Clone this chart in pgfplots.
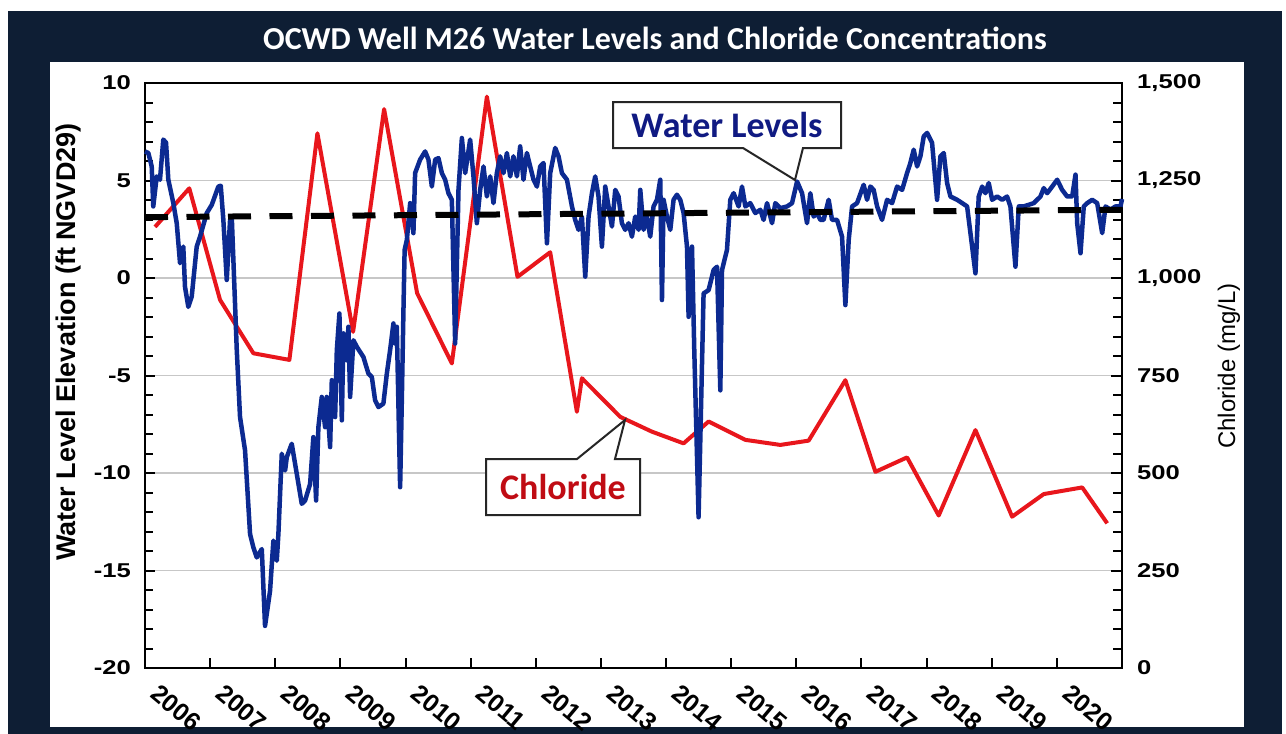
\documentclass[border=0pt]{standalone}
\usepackage{fontspec}
\setmainfont{Liberation Sans}
\newfontfamily\tickfont{Liberation Sans}[FakeStretch=1.28]
\newfontfamily\calfont{Carlito}
\usepackage{pgfplots}
\pgfplotsset{compat=1.18}
\definecolor{navyframe}{RGB}{14,30,52}
\definecolor{wlblue}{RGB}{12,42,145}
\definecolor{wltext}{RGB}{16,26,130}
\definecolor{clred}{RGB}{232,22,28}
\definecolor{cltext}{RGB}{192,12,20}
\begin{document}
\begin{tikzpicture}[x=1pt,y=1pt]
\path[use as bounding box] (0,0) rectangle (1286,-734);
\fill[white] (0,0) rectangle (1286,-734);
\fill[navyframe] (8,-11) rectangle (1282,-734);
\fill[white] (50,-62) rectangle (1244,-727);
\node[white, font=\calfont\bfseries\fontsize{32}{37}\selectfont] at (655,-38) {OCWD Well M26 Water Levels and Chloride Concentrations};

% right axis: chloride
\begin{axis}[at={(145pt,-668pt)}, anchor=south west, scale only axis,
  width=977pt, height=585pt,
  xmin=2006, xmax=2021, ymin=0, ymax=1500,
  axis x line=none, axis y line*=right,
  axis line style={line width=2.5pt, black, -},
  ytick={0,250,500,750,1000,1250,1500},
  yticklabels={0,250,500,750,{1,000},{1,250},{1,500}},
  minor y tick num=4,
  tick align=inside,
  major tick length=11pt, minor tick length=9pt,
  every tick/.style={line width=2pt, black},
  ymajorgrids, major grid style={black!22, line width=1.5pt},
  yticklabel style={font=\tickfont\bfseries\fontsize{20}{24}\selectfont, anchor=west, inner sep=0pt, xshift=15pt},
  clip=false]
\addplot[clred, line width=4pt, line join=round] coordinates {
(2006.154,1131) (2006.680,1230) (2007.152,944) (2007.664,807) (2008.217,790)
(2008.647,1371) (2009.195,862) (2009.671,1433) (2010.178,961) (2010.711,781)
(2011.249,1465) (2011.719,1003) (2012.221,1066) (2012.631,657) (2012.708,743)
(2013.296,644) (2013.783,606) (2014.269,576) (2014.653,632) (2015.217,585)
(2015.754,572) (2016.189,583) (2016.753,738) (2017.214,503) (2017.700,540)
(2018.186,391) (2018.750,610) (2019.313,388) (2019.799,446) (2020.389,463)
(2020.773,371)};
\end{axis}

% left axis: water levels
\begin{axis}[at={(145pt,-668pt)}, anchor=south west, scale only axis,
  width=977pt, height=585pt,
  xmin=2006, xmax=2021, ymin=-20, ymax=10,
  axis line style={line width=2.5pt, black},
  xtick={2006,...,2020},
  xticklabels={2006,2007,2008,2009,2010,2011,2012,2013,2014,2015,2016,2017,2018,2019,2020},
  ytick={-20,-15,-10,-5,0,5,10},
  yticklabels={-20,-15,-10,-5,0,5,10},
  minor y tick num=4,
  xtick pos=bottom, ytick pos=left,
  tick align=inside,
  major tick length=10pt, minor tick length=8pt,
  every tick/.style={line width=2pt, black},
  yticklabel style={font=\tickfont\bfseries\fontsize{20}{24}\selectfont, anchor=east, inner sep=0pt, xshift=-14pt},
  xticklabel style={font=\bfseries\fontsize{25}{29}\selectfont, rotate=-40, anchor=north west, inner sep=0pt, xshift=21.5pt, yshift=-1.5pt},
  clip=false]
\addplot[wlblue, line width=4.5pt, line join=round] coordinates {
(2006.000,6.49) (2006.051,6.41) (2006.103,5.72) (2006.127,3.67) (2006.180,5.21)
(2006.230,5.04) (2006.281,7.10) (2006.323,6.94) (2006.358,5.04) (2006.435,3.84)
(2006.487,2.81) (2006.538,0.76) (2006.588,1.61) (2006.614,-0.45) (2006.665,-1.48)
(2006.717,-0.96) (2006.794,1.61) (2006.845,2.12) (2006.948,3.33) (2007.025,3.75)
(2007.126,4.69) (2007.163,4.73) (2007.203,2.98) (2007.255,-0.10) (2007.306,2.98)
(2007.332,3.15) (2007.409,-3.70) (2007.459,-7.13) (2007.536,-8.84) (2007.613,-13.13)
(2007.664,-13.82) (2007.716,-14.33) (2007.793,-13.90) (2007.843,-17.84) (2007.920,-16.04)
(2007.971,-13.47) (2008.023,-14.50) (2008.048,-13.13) (2008.100,-9.01) (2008.151,-9.87)
(2008.177,-9.19) (2008.253,-8.50) (2008.330,-10.04) (2008.407,-11.58) (2008.458,-11.41)
(2008.535,-10.56) (2008.585,-8.16) (2008.627,-11.41) (2008.662,-7.65) (2008.714,-6.10)
(2008.765,-7.65) (2008.791,-6.10) (2008.842,-8.67) (2008.868,-5.24) (2008.919,-7.13)
(2008.945,-3.70) (2008.985,-1.82) (2009.022,-7.30) (2009.047,-2.84) (2009.098,-4.22)
(2009.123,-2.50) (2009.149,-6.10) (2009.200,-3.19) (2009.252,-3.53) (2009.353,-4.05)
(2009.430,-4.90) (2009.482,-5.07) (2009.533,-6.27) (2009.584,-6.62) (2009.660,-6.44)
(2009.713,-4.90) (2009.763,-3.70) (2009.814,-2.33) (2009.840,-3.36) (2009.866,-2.50)
(2009.917,-10.73) (2009.943,-6.27) (2009.968,-1.65) (2009.986,1.44) (2010.020,1.95)
(2010.071,3.84) (2010.121,2.30) (2010.147,5.38) (2010.224,6.07) (2010.301,6.49)
(2010.352,6.07) (2010.404,4.69) (2010.455,6.07) (2010.505,6.15) (2010.558,5.38)
(2010.608,5.04) (2010.659,4.35) (2010.711,4.01) (2010.762,-3.36) (2010.813,4.52)
(2010.865,7.18) (2010.916,5.38) (2010.992,7.10) (2011.043,5.21) (2011.095,2.81)
(2011.146,4.52) (2011.197,5.72) (2011.249,4.18) (2011.300,5.21) (2011.350,3.84)
(2011.402,5.38) (2011.453,6.24) (2011.504,5.38) (2011.556,6.41) (2011.607,5.21)
(2011.657,6.24) (2011.710,5.21) (2011.760,6.75) (2011.811,5.04) (2011.863,6.41)
(2011.914,5.72) (2011.965,5.04) (2012.017,4.69) (2012.068,5.72) (2012.118,5.90)
(2012.171,1.78) (2012.221,5.38) (2012.298,6.67) (2012.349,6.24) (2012.401,5.38)
(2012.478,5.04) (2012.555,3.67) (2012.605,2.98) (2012.656,2.47) (2012.708,3.15)
(2012.759,0.07) (2012.810,3.15) (2012.862,4.35) (2012.912,5.21) (2012.963,4.18)
(2013.015,1.61) (2013.066,4.69) (2013.117,3.67) (2013.169,2.64) (2013.220,4.52)
(2013.270,4.18) (2013.322,2.81) (2013.373,2.47) (2013.424,2.81) (2013.476,2.12)
(2013.527,3.15) (2013.578,2.47) (2013.604,4.52) (2013.654,2.47) (2013.707,3.15)
(2013.757,2.12) (2013.808,3.67) (2013.860,4.01) (2013.911,5.04) (2013.937,-1.13)
(2013.962,4.01) (2014.014,3.15) (2014.065,2.47) (2014.115,4.01) (2014.167,4.27)
(2014.218,4.01) (2014.269,3.33) (2014.321,1.61) (2014.346,-1.99) (2014.398,1.61)
(2014.433,-3.70) (2014.499,-12.27) (2014.576,-0.79) (2014.653,-0.62) (2014.730,0.41)
(2014.782,0.58) (2014.833,-5.76) (2014.859,0.41) (2014.935,1.44) (2014.986,4.01)
(2015.037,4.35) (2015.114,3.67) (2015.166,4.69) (2015.217,3.67) (2015.293,3.84)
(2015.370,3.33) (2015.447,3.50) (2015.498,2.98) (2015.550,3.84) (2015.627,2.81)
(2015.677,3.84) (2015.754,3.58) (2015.857,3.67) (2015.934,3.84) (2016.011,4.95)
(2016.088,4.35) (2016.164,2.81) (2016.215,4.35) (2016.266,3.15) (2016.318,3.33)
(2016.369,2.98) (2016.419,2.98) (2016.496,4.01) (2016.548,2.98) (2016.625,2.98)
(2016.702,2.12) (2016.753,-1.39) (2016.804,1.95) (2016.856,3.67) (2016.932,3.84)
(2017.034,4.78) (2017.086,4.01) (2017.137,4.69) (2017.187,4.52) (2017.240,3.67)
(2017.316,2.98) (2017.393,4.01) (2017.470,3.84) (2017.547,4.69) (2017.624,4.52)
(2017.700,5.38) (2017.751,5.90) (2017.802,6.58) (2017.854,5.72) (2017.905,6.24)
(2017.956,7.26) (2018.008,7.44) (2018.084,6.93) (2018.161,4.01) (2018.212,6.24)
(2018.263,6.41) (2018.315,4.87) (2018.366,4.18) (2018.469,4.01) (2018.622,3.67)
(2018.750,0.24) (2018.800,4.18) (2018.853,4.69) (2018.903,4.35) (2018.954,4.87)
(2019.006,4.01) (2019.083,4.18) (2019.160,4.01) (2019.236,4.18) (2019.287,3.67)
(2019.364,0.58) (2019.415,3.67) (2019.492,3.67) (2019.645,3.84) (2019.748,4.18)
(2019.799,4.61) (2019.851,4.35) (2019.928,4.69) (2020.005,5.04) (2020.081,4.52)
(2020.158,4.18) (2020.235,4.18) (2020.286,5.30) (2020.312,2.81) (2020.363,1.27)
(2020.413,3.67) (2020.465,3.84) (2020.542,4.01) (2020.619,3.84) (2020.696,2.30)
(2020.747,3.67) (2020.823,3.50) (2020.900,3.67) (2020.977,3.67) (2021.000,4.05)};
\addplot[black, line width=6pt, dash pattern=on 23pt off 18.5pt] coordinates {(2006,3.12) (2021,3.5)};
\end{axis}

% axis titles
\node[rotate=90, font=\bfseries\fontsize{27}{31}\selectfont] at (69,-342) {Water Level Elevation (ft NGVD29)};
\node[rotate=90, font=\fontsize{24}{28}\selectfont] at (1229,-366) {Chloride (mg/L)};

% callouts
\draw[line width=2pt, black!85, fill=white, line join=miter]
  (613,-102) -- (841,-102) -- (841,-148) -- (803,-148) -- (795,-180) -- (743,-148) -- (613,-148) -- cycle;
\node[text=wltext, font=\calfont\bfseries\fontsize{36}{40}\selectfont] at (727,-125) {Water Levels};
\draw[line width=2pt, black!85, fill=white, line join=miter]
  (486,-459) -- (577,-459) -- (625,-420) -- (615,-459) -- (640,-459) -- (640,-515) -- (486,-515) -- cycle;
\node[text=cltext, font=\calfont\bfseries\fontsize{36}{40}\selectfont] at (563,-487) {Chloride};
\end{tikzpicture}
\end{document}
